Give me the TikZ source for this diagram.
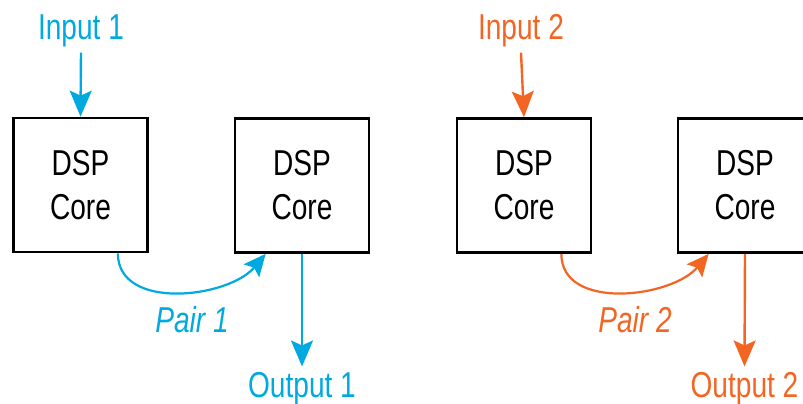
\documentclass[tikz,border=0pt]{standalone}
\usepackage{fontspec}
\setmainfont[FakeStretch=0.78]{Liberation Sans}
\usetikzlibrary{arrows.meta}
\definecolor{pairblue}{RGB}{0,169,224}
\definecolor{pairorange}{RGB}{242,101,34}
\tikzset{
  core/.style={draw, line width=1.35pt, minimum width=67pt, minimum height=67pt,
    align=center, inner sep=0pt, font=\fontsize{18}{22}\selectfont},
  lab/.style={inner sep=2.5pt, font=\fontsize{18}{22}\selectfont},
  pairlab/.style={font=\fontsize{18}{22}\selectfont\itshape},
  flow/.style={line width=1.2pt, -{Stealth[length=13pt, width=11pt, inset=2.5pt]}},
  pairflow/.style={line width=1.1pt, -{Stealth[length=11pt, width=10pt, inset=2pt]}}
}
\begin{document}
\begin{tikzpicture}[x=0.5pt, y=-0.5pt]
                \useasboundingbox (0,0) rectangle (803,403);

                \node[core] (c1) at (80.5,185) {DSP\\Core};
                \node[core] (c2) at (302,185.5) {DSP\\Core};
                \node[core] (c3) at (524,185.5) {DSP\\Core};
                \node[core] (c4) at (745,185.5) {DSP\\Core};

                \node[lab, text=pairblue] (in1) at (81,31) {Input 1};
                \node[lab, text=pairorange] (in2) at (521,31) {Input 2};
                \node[lab, text=pairblue, anchor=base] (out1) at (302,397) {Output 1};
                \node[lab, text=pairorange, anchor=base] (out2) at (744.5,397) {Output 2};
                \node[pairlab, text=pairblue] (pair1) at (192,320) {Pair 1};
                \node[pairlab, text=pairorange] (pair2) at (635,320) {Pair 2};

                \draw[flow, pairblue] (in1.south) -- (c1.north);
                \draw[flow, pairorange] (in2.south) -- (c3.north);

                \draw[pairflow, pairblue] ([xshift=-15.5pt]c1.south east) to[out=-90, in=230] ([xshift=16pt]c2.south west);
                \draw[pairflow, pairorange] ([xshift=-15.5pt]c3.south east) to[out=-90, in=230] ([xshift=16pt]c4.south west);

                \draw[flow, pairblue] (c2.south) -- (out1.north);
                \draw[flow, pairorange] (c4.south) -- (out2.north);
            \end{tikzpicture}
\end{document}
